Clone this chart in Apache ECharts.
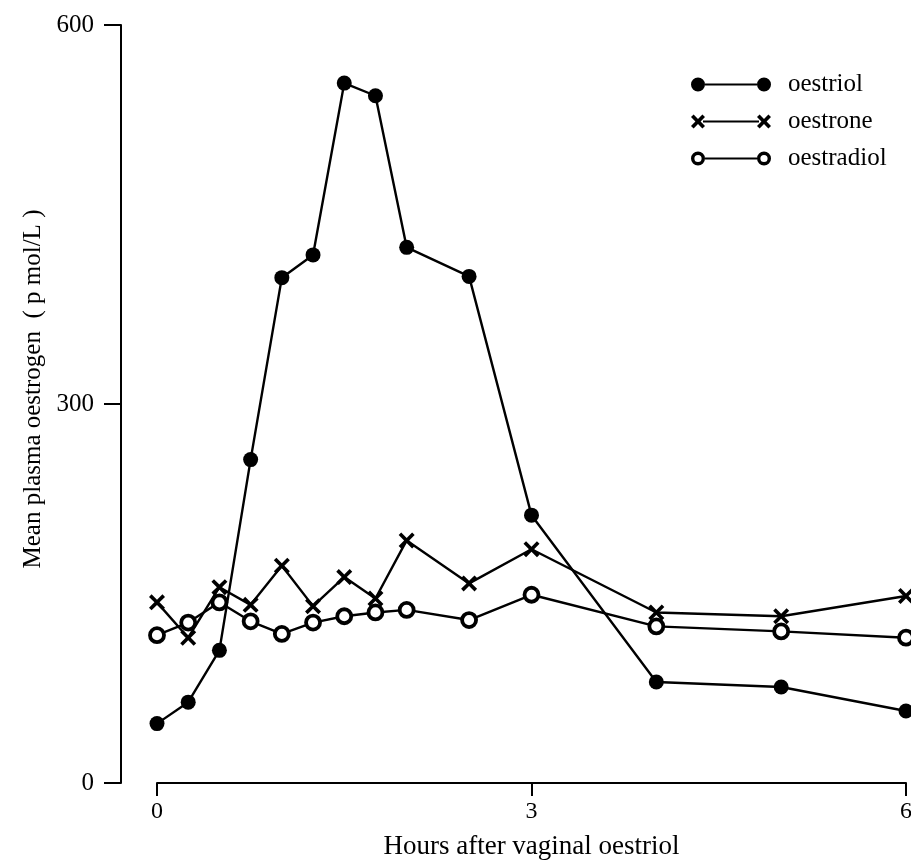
<!DOCTYPE html>
<html>
<head>
<meta charset="utf-8">
<script src="https://cdn.jsdelivr.net/npm/echarts@6/dist/echarts.min.js"></script>
<style>
  html, body { margin: 0; padding: 0; background: #fff; }
  #chart { width: 911px; height: 863px; }
</style>
</head>
<body>
<div id="chart"></div>
<script>
// hours after vaginal oestriol
var hours = [0, 0.25, 0.5, 0.75, 1, 1.25, 1.5, 1.75, 2, 2.5, 3, 4, 5, 6];
// mean plasma oestrogen, p mol/L
var oestriol = [47, 64, 105, 256, 400, 418, 554, 544, 424, 401, 212, 80, 76, 57];
var oestrone = [143, 115, 155, 141, 172, 140, 163, 146, 192, 158, 185, 135, 132, 148];
var oestradiol = [117, 127, 143, 128, 118, 127, 132, 135, 137, 129, 149, 124, 120, 115];
var xTicks = [0, 3, 6];
var yTicks = [0, 300, 600];

var FONT = '"Liberation Serif", "DejaVu Serif", serif';

// cross marker
var CROSS = 'path://M0 1.6 L1.6 0 L5 3.4 L8.4 0 L10 1.6 L6.6 5 L10 8.4 L8.4 10 L5 6.6 L1.6 10 L0 8.4 L3.4 5 Z';

// legend icons: marker - line - marker
var LINE = 'M14 6 L66 6 L66 8 L14 8 Z ';
var ICON_FILLED = 'path://M0 7 A7 7 0 1 1 14 7 A7 7 0 1 1 0 7 Z M66 7 A7 7 0 1 1 80 7 A7 7 0 1 1 66 7 Z ' + LINE;
var ICON_OPEN = 'path://M0 7 A7 7 0 1 1 14 7 A7 7 0 1 1 0 7 Z M3.4 7 A3.6 3.6 0 1 0 10.6 7 A3.6 3.6 0 1 0 3.4 7 Z ' +
    'M66 7 A7 7 0 1 1 80 7 A7 7 0 1 1 66 7 Z M69.4 7 A3.6 3.6 0 1 0 76.6 7 A3.6 3.6 0 1 0 69.4 7 Z ' + LINE;
var ICON_CROSS = 'path://M0 2.6 L2.6 0 L7 4.4 L11.4 0 L14 2.6 L9.6 7 L14 11.4 L11.4 14 L7 9.6 L2.6 14 L0 11.4 L4.4 7 Z ' +
    'M66 2.6 L68.6 0 L73 4.4 L77.4 0 L80 2.6 L75.6 7 L80 11.4 L77.4 14 L73 9.6 L68.6 14 L66 11.4 L70.4 7 Z ' +
    'M12 6 L68 6 L68 8 L12 8 Z';

function pairs(vals) {
    return hours.map(function (h, i) { return [h, vals[i]]; });
}

var chart = echarts.init(document.getElementById('chart'));

var option = {
    backgroundColor: '#fff',
    animation: false,
    textStyle: { fontFamily: FONT, color: '#000' },
    grid: { left: 157, right: 5, top: 25, bottom: 80, containLabel: false, outerBoundsMode: 'none' },
    legend: {
        orient: 'vertical',
        left: 686,
        top: 67,
        itemWidth: 80,
        itemHeight: 15,
        itemGap: 12,
        textStyle: { fontFamily: FONT, fontSize: 25, color: '#000', padding: [0, 0, 0, 12] },
        data: [
            { name: 'oestriol', icon: ICON_FILLED, itemStyle: { color: '#000', borderWidth: 0 } },
            { name: 'oestrone', icon: ICON_CROSS, itemStyle: { color: '#000', borderWidth: 0 } },
            { name: 'oestradiol', icon: ICON_OPEN, itemStyle: { color: '#000', borderWidth: 0 } }
        ]
    },
    xAxis: {
        type: 'value',
        min: 0,
        max: 6,
        interval: 3,
        name: 'Hours after vaginal oestriol',
        nameLocation: 'middle',
        nameGap: 50,
        nameTextStyle: { fontFamily: FONT, fontSize: 27, color: '#000' },
        axisLine: { show: true, onZero: false, lineStyle: { color: '#000', width: 2 } },
        axisTick: { show: true, inside: false, length: 13, lineStyle: { color: '#000', width: 2 } },
        axisLabel: {
            fontFamily: FONT, fontSize: 24, color: '#000', margin: 17,
            customValues: xTicks,
            formatter: function (v) { return String(v); }
        },
        splitLine: { show: false }
    },
    yAxis: {
        type: 'value',
        min: 0,
        max: 600,
        interval: 300,
        offset: 36,
        name: 'Mean plasma oestrogen  ( p mol/L )',
        nameLocation: 'middle',
        nameGap: 70,
        nameRotate: 90,
        nameTextStyle: { fontFamily: FONT, fontSize: 25, color: '#000', padding: [0, 0, 0, 30] },
        axisLine: { show: true, onZero: false, lineStyle: { color: '#000', width: 2 } },
        axisTick: { show: true, inside: false, length: 17, lineStyle: { color: '#000', width: 2 } },
        axisLabel: {
            fontFamily: FONT, fontSize: 25, color: '#000', margin: 27,
            customValues: yTicks
        },
        splitLine: { show: false }
    },
    series: [
        {
            name: 'oestradiol',
            type: 'line',
            data: pairs(oestradiol),
            symbol: 'circle',
            symbolSize: 14,
            clip: false,
            lineStyle: { color: '#000', width: 2.4 },
            itemStyle: { color: '#fff', borderColor: '#000', borderWidth: 3.8 },
            z: 2
        },
        {
            name: 'oestrone',
            type: 'line',
            data: pairs(oestrone),
            symbol: CROSS,
            symbolSize: 16,
            clip: false,
            lineStyle: { color: '#000', width: 2.4 },
            itemStyle: { color: '#000' },
            z: 3
        },
        {
            name: 'oestriol',
            type: 'line',
            data: pairs(oestriol),
            symbol: 'circle',
            symbolSize: 15,
            clip: false,
            lineStyle: { color: '#000', width: 2.4 },
            itemStyle: { color: '#000' },
            z: 4
        }
    ]
};

chart.setOption(option);
</script>
</body>
</html>
